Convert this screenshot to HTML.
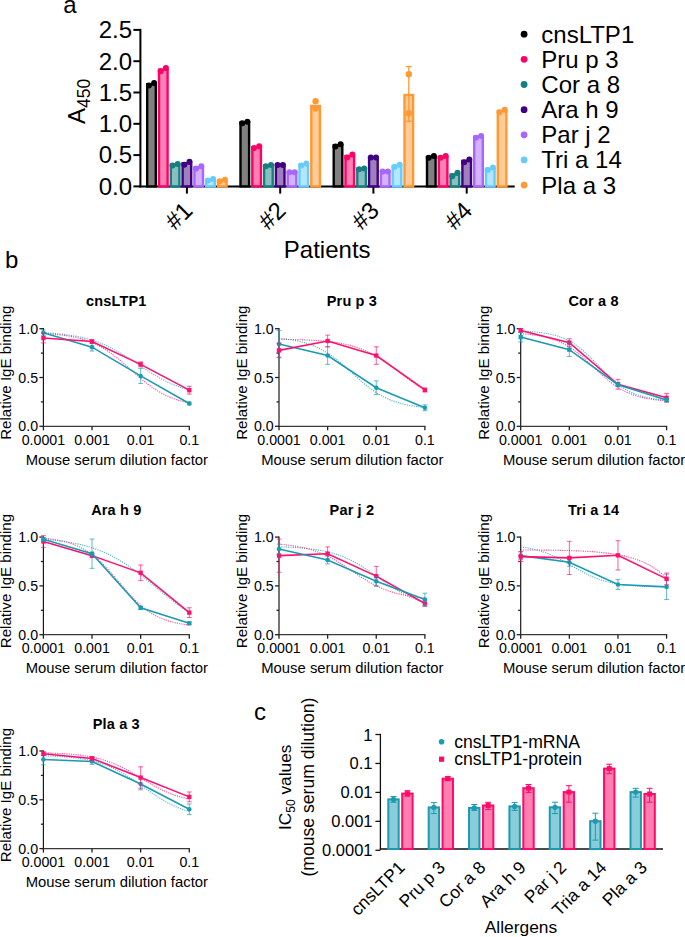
<!DOCTYPE html>
<html><head><meta charset="utf-8"><style>
html,body{margin:0;padding:0;background:#fff;}
svg{display:block;font-family:"Liberation Sans", sans-serif;}
</style></head><body>
<svg width="685" height="937" viewBox="0 0 685 937">
<rect width="685" height="937" fill="#fff"/>
<text x="63.3" y="12.6" font-size="24" text-anchor="start" font-weight="normal" fill="#000">a</text>
<line x1="140.4" y1="28.9" x2="140.4" y2="187.4" stroke="#000" stroke-width="2"/>
<line x1="139.4" y1="186.4" x2="514.7" y2="186.4" stroke="#000" stroke-width="2"/>
<line x1="133.4" y1="29.9" x2="140.4" y2="29.9" stroke="#000" stroke-width="2"/>
<text x="132" y="38.2" font-size="24" text-anchor="end" font-weight="normal" fill="#000">2.5</text>
<line x1="133.4" y1="61.2" x2="140.4" y2="61.2" stroke="#000" stroke-width="2"/>
<text x="132" y="69.5" font-size="24" text-anchor="end" font-weight="normal" fill="#000">2.0</text>
<line x1="133.4" y1="92.5" x2="140.4" y2="92.5" stroke="#000" stroke-width="2"/>
<text x="132" y="100.8" font-size="24" text-anchor="end" font-weight="normal" fill="#000">1.5</text>
<line x1="133.4" y1="123.8" x2="140.4" y2="123.8" stroke="#000" stroke-width="2"/>
<text x="132" y="132.1" font-size="24" text-anchor="end" font-weight="normal" fill="#000">1.0</text>
<line x1="133.4" y1="155.1" x2="140.4" y2="155.1" stroke="#000" stroke-width="2"/>
<text x="132" y="163.4" font-size="24" text-anchor="end" font-weight="normal" fill="#000">0.5</text>
<line x1="133.4" y1="186.4" x2="140.4" y2="186.4" stroke="#000" stroke-width="2"/>
<text x="132" y="194.7" font-size="24" text-anchor="end" font-weight="normal" fill="#000">0.0</text>
<line x1="186.9" y1="186.4" x2="186.9" y2="193.6" stroke="#000" stroke-width="2"/>
<text x="193.9" y="212" font-size="24" text-anchor="end" font-weight="normal" fill="#000" transform="rotate(-45 193.9 212)">#1</text>
<line x1="280.2" y1="186.4" x2="280.2" y2="193.6" stroke="#000" stroke-width="2"/>
<text x="287.2" y="212" font-size="24" text-anchor="end" font-weight="normal" fill="#000" transform="rotate(-45 287.2 212)">#2</text>
<line x1="373.4" y1="186.4" x2="373.4" y2="193.6" stroke="#000" stroke-width="2"/>
<text x="380.4" y="212" font-size="24" text-anchor="end" font-weight="normal" fill="#000" transform="rotate(-45 380.4 212)">#3</text>
<line x1="466.7" y1="186.4" x2="466.7" y2="193.6" stroke="#000" stroke-width="2"/>
<text x="473.7" y="212" font-size="24" text-anchor="end" font-weight="normal" fill="#000" transform="rotate(-45 473.7 212)">#4</text>
<text x="327.2" y="257.9" font-size="24" text-anchor="middle" font-weight="normal" fill="#000">Patients</text>
<text transform="translate(85 124) rotate(-90)" font-size="24" fill="#000">A<tspan font-size="17.5" dy="5">450</tspan></text>
<rect x="147.2" y="84.25" width="8.6" height="102.15" fill="#808080" stroke="#000000" stroke-width="2.4"/>
<circle cx="148.9" cy="85.5" r="3" fill="#000000"/>
<circle cx="154.1" cy="83" r="3" fill="#000000"/>
<rect x="159" y="69.65" width="8.6" height="116.75" fill="#FF80B3" stroke="#FF0066" stroke-width="2.4"/>
<circle cx="160.7" cy="71.3" r="3" fill="#FF0066"/>
<circle cx="165.9" cy="68" r="3" fill="#FF0066"/>
<rect x="170.8" y="164.75" width="8.6" height="21.65" fill="#8ABFBF" stroke="#157F7F" stroke-width="2.4"/>
<circle cx="172.5" cy="165.5" r="3" fill="#157F7F"/>
<circle cx="177.7" cy="164" r="3" fill="#157F7F"/>
<rect x="182.6" y="163.3" width="8.6" height="23.1" fill="#9F80BF" stroke="#40007F" stroke-width="2.4"/>
<circle cx="184.3" cy="164.8" r="3" fill="#40007F"/>
<circle cx="189.5" cy="161.8" r="3" fill="#40007F"/>
<rect x="194.4" y="167.35" width="8.6" height="19.05" fill="#D4B2FF" stroke="#A965FF" stroke-width="2.4"/>
<circle cx="196.1" cy="168.5" r="3" fill="#A965FF"/>
<circle cx="201.3" cy="166.2" r="3" fill="#A965FF"/>
<rect x="206.2" y="179.65" width="8.6" height="6.75" fill="#B3E6FF" stroke="#66CCFF" stroke-width="2.4"/>
<circle cx="207.9" cy="180.4" r="3" fill="#66CCFF"/>
<circle cx="213.1" cy="178.9" r="3" fill="#66CCFF"/>
<rect x="218" y="180.45" width="8.6" height="5.95" fill="#FFCC99" stroke="#FF9933" stroke-width="2.4"/>
<circle cx="219.7" cy="181.2" r="3" fill="#FF9933"/>
<circle cx="224.9" cy="179.7" r="3" fill="#FF9933"/>
<rect x="240.5" y="122.5" width="8.6" height="63.9" fill="#808080" stroke="#000000" stroke-width="2.4"/>
<circle cx="242.2" cy="123.2" r="3" fill="#000000"/>
<circle cx="247.4" cy="121.8" r="3" fill="#000000"/>
<rect x="252.3" y="147.2" width="8.6" height="39.2" fill="#FF80B3" stroke="#FF0066" stroke-width="2.4"/>
<circle cx="254" cy="148.1" r="3" fill="#FF0066"/>
<circle cx="259.2" cy="146.3" r="3" fill="#FF0066"/>
<rect x="264.1" y="165.6" width="8.6" height="20.8" fill="#8ABFBF" stroke="#157F7F" stroke-width="2.4"/>
<circle cx="265.8" cy="166.3" r="3" fill="#157F7F"/>
<circle cx="271" cy="164.9" r="3" fill="#157F7F"/>
<rect x="275.9" y="164.9" width="8.6" height="21.5" fill="#9F80BF" stroke="#40007F" stroke-width="2.4"/>
<circle cx="277.6" cy="164.9" r="3" fill="#40007F"/>
<circle cx="282.8" cy="164.9" r="3" fill="#40007F"/>
<rect x="287.7" y="172.2" width="8.6" height="14.2" fill="#D4B2FF" stroke="#A965FF" stroke-width="2.4"/>
<circle cx="289.4" cy="172.2" r="3" fill="#A965FF"/>
<circle cx="294.6" cy="172.2" r="3" fill="#A965FF"/>
<rect x="299.5" y="164.5" width="8.6" height="21.9" fill="#B3E6FF" stroke="#66CCFF" stroke-width="2.4"/>
<circle cx="301.2" cy="165.6" r="3" fill="#66CCFF"/>
<circle cx="306.4" cy="163.4" r="3" fill="#66CCFF"/>
<rect x="333.7" y="145.4" width="8.6" height="41" fill="#808080" stroke="#000000" stroke-width="2.4"/>
<circle cx="335.4" cy="146.5" r="3" fill="#000000"/>
<circle cx="340.6" cy="144.3" r="3" fill="#000000"/>
<rect x="345.5" y="156.05" width="8.6" height="30.35" fill="#FF80B3" stroke="#FF0066" stroke-width="2.4"/>
<circle cx="347.2" cy="157.5" r="3" fill="#FF0066"/>
<circle cx="352.4" cy="154.6" r="3" fill="#FF0066"/>
<rect x="357.3" y="168.8" width="8.6" height="17.6" fill="#8ABFBF" stroke="#157F7F" stroke-width="2.4"/>
<circle cx="359" cy="169.2" r="3" fill="#157F7F"/>
<circle cx="364.2" cy="168.4" r="3" fill="#157F7F"/>
<rect x="369.1" y="157.5" width="8.6" height="28.9" fill="#9F80BF" stroke="#40007F" stroke-width="2.4"/>
<circle cx="370.8" cy="157.5" r="3" fill="#40007F"/>
<circle cx="376" cy="157.5" r="3" fill="#40007F"/>
<rect x="380.9" y="171.4" width="8.6" height="15" fill="#D4B2FF" stroke="#A965FF" stroke-width="2.4"/>
<circle cx="382.6" cy="171.4" r="3" fill="#A965FF"/>
<circle cx="387.8" cy="171.4" r="3" fill="#A965FF"/>
<rect x="392.7" y="165.9" width="8.6" height="20.5" fill="#B3E6FF" stroke="#66CCFF" stroke-width="2.4"/>
<circle cx="394.4" cy="167" r="3" fill="#66CCFF"/>
<circle cx="399.6" cy="164.8" r="3" fill="#66CCFF"/>
<rect x="427" y="156.95" width="8.6" height="29.45" fill="#808080" stroke="#000000" stroke-width="2.4"/>
<circle cx="428.7" cy="157.8" r="3" fill="#000000"/>
<circle cx="433.9" cy="156.1" r="3" fill="#000000"/>
<rect x="438.8" y="156.95" width="8.6" height="29.45" fill="#FF80B3" stroke="#FF0066" stroke-width="2.4"/>
<circle cx="440.5" cy="157.8" r="3" fill="#FF0066"/>
<circle cx="445.7" cy="156.1" r="3" fill="#FF0066"/>
<rect x="450.6" y="174.45" width="8.6" height="11.95" fill="#8ABFBF" stroke="#157F7F" stroke-width="2.4"/>
<circle cx="452.3" cy="176.2" r="3" fill="#157F7F"/>
<circle cx="457.5" cy="172.7" r="3" fill="#157F7F"/>
<rect x="462.4" y="160.9" width="8.6" height="25.5" fill="#9F80BF" stroke="#40007F" stroke-width="2.4"/>
<circle cx="464.1" cy="162.2" r="3" fill="#40007F"/>
<circle cx="469.3" cy="159.6" r="3" fill="#40007F"/>
<rect x="474.2" y="136.8" width="8.6" height="49.6" fill="#D4B2FF" stroke="#A965FF" stroke-width="2.4"/>
<circle cx="475.9" cy="137.7" r="3" fill="#A965FF"/>
<circle cx="481.1" cy="135.9" r="3" fill="#A965FF"/>
<rect x="486" y="168.8" width="8.6" height="17.6" fill="#B3E6FF" stroke="#66CCFF" stroke-width="2.4"/>
<circle cx="487.7" cy="170.1" r="3" fill="#66CCFF"/>
<circle cx="492.9" cy="167.5" r="3" fill="#66CCFF"/>
<rect x="497.8" y="111" width="8.6" height="75.4" fill="#FFCC99" stroke="#FF9933" stroke-width="2.4"/>
<circle cx="499.5" cy="112.3" r="3" fill="#FF9933"/>
<circle cx="504.7" cy="109.7" r="3" fill="#FF9933"/>
<rect x="311.3" y="106" width="8.6" height="80.4" fill="#FFCC99" stroke="#FF9933" stroke-width="2.4"/>
<circle cx="315.6" cy="101.3" r="3.2" fill="#FF9933"/>
<circle cx="315.6" cy="108.5" r="3.2" fill="#FF9933"/>
<rect x="404.5" y="95" width="8.6" height="91.4" fill="#FFCC99" stroke="#FF9933" stroke-width="2.4"/>
<line x1="408.8" y1="66.6" x2="408.8" y2="121.3" stroke="#FF9933" stroke-width="1.3"/>
<line x1="405.8" y1="66.6" x2="411.8" y2="66.6" stroke="#FF9933" stroke-width="1.3"/>
<line x1="405.8" y1="121.3" x2="411.8" y2="121.3" stroke="#FF9933" stroke-width="1.3"/>
<circle cx="408.8" cy="74.3" r="3.2" fill="#FF9933"/>
<circle cx="408.8" cy="113.3" r="3.2" fill="#FF9933"/>
<circle cx="524.1" cy="34.2" r="3.4" fill="#000000"/>
<text x="541.3" y="42.6" font-size="24" text-anchor="start" font-weight="normal" fill="#000">cnsLTP1</text>
<circle cx="524.1" cy="59.35" r="3.4" fill="#FF0066"/>
<text x="541.3" y="67.75" font-size="24" text-anchor="start" font-weight="normal" fill="#000">Pru p 3</text>
<circle cx="524.1" cy="84.5" r="3.4" fill="#157F7F"/>
<text x="541.3" y="92.9" font-size="24" text-anchor="start" font-weight="normal" fill="#000">Cor a 8</text>
<circle cx="524.1" cy="109.65" r="3.4" fill="#40007F"/>
<text x="541.3" y="118.05" font-size="24" text-anchor="start" font-weight="normal" fill="#000">Ara h 9</text>
<circle cx="524.1" cy="134.8" r="3.4" fill="#A965FF"/>
<text x="541.3" y="143.2" font-size="24" text-anchor="start" font-weight="normal" fill="#000">Par j 2</text>
<circle cx="524.1" cy="159.95" r="3.4" fill="#66CCFF"/>
<text x="541.3" y="168.35" font-size="24" text-anchor="start" font-weight="normal" fill="#000">Tri a 14</text>
<circle cx="524.1" cy="185.1" r="3.4" fill="#FF9933"/>
<text x="541.3" y="193.5" font-size="24" text-anchor="start" font-weight="normal" fill="#000">Pla a 3</text>
<text x="5" y="267.8" font-size="24" text-anchor="start" font-weight="normal" fill="#000">b</text>
<text x="116.3" y="306.2" font-size="14.5" text-anchor="middle" font-weight="bold" fill="#000" letter-spacing="0.15">cnsLTP1</text>
<line x1="43.4" y1="328.1" x2="43.4" y2="426.9" stroke="#111" stroke-width="1.15"/>
<line x1="42.8" y1="426.3" x2="189.89" y2="426.3" stroke="#3a3a3a" stroke-width="1.3"/>
<line x1="39.4" y1="426.3" x2="43.4" y2="426.3" stroke="#222" stroke-width="1.3"/>
<text x="38.1" y="431.3" font-size="14.2" text-anchor="end" font-weight="normal" fill="#000">0.0</text>
<line x1="40.9" y1="401.9" x2="43.4" y2="401.9" stroke="#222" stroke-width="1.3"/>
<line x1="39.4" y1="377.5" x2="43.4" y2="377.5" stroke="#222" stroke-width="1.3"/>
<text x="38.1" y="382.5" font-size="14.2" text-anchor="end" font-weight="normal" fill="#000">0.5</text>
<line x1="40.9" y1="353.1" x2="43.4" y2="353.1" stroke="#222" stroke-width="1.3"/>
<line x1="39.4" y1="328.7" x2="43.4" y2="328.7" stroke="#222" stroke-width="1.3"/>
<text x="38.1" y="333.7" font-size="14.2" text-anchor="end" font-weight="normal" fill="#000">1.0</text>
<line x1="43.4" y1="426.3" x2="43.4" y2="430.3" stroke="#222" stroke-width="1.3"/>
<text x="43.4" y="444.7" font-size="14.2" text-anchor="middle" font-weight="normal" fill="#000">0.0001</text>
<line x1="92.03" y1="426.3" x2="92.03" y2="430.3" stroke="#222" stroke-width="1.3"/>
<text x="92.03" y="444.7" font-size="14.2" text-anchor="middle" font-weight="normal" fill="#000">0.001</text>
<line x1="140.66" y1="426.3" x2="140.66" y2="430.3" stroke="#222" stroke-width="1.3"/>
<text x="140.66" y="444.7" font-size="14.2" text-anchor="middle" font-weight="normal" fill="#000">0.01</text>
<line x1="189.29" y1="426.3" x2="189.29" y2="430.3" stroke="#222" stroke-width="1.3"/>
<text x="189.29" y="444.7" font-size="14.2" text-anchor="middle" font-weight="normal" fill="#000">0.1</text>
<text x="116.8" y="464.6" font-size="14.85" text-anchor="middle" font-weight="normal" fill="#000">Mouse serum dilution factor</text>
<text transform="translate(11.2 372.7) rotate(-90)" font-size="15.1" text-anchor="middle" fill="#000">Relative IgE binding</text>
<polyline points="43.4,333.46 45.83,333.6 48.26,333.75 50.69,333.93 53.13,334.13 55.56,334.34 57.99,334.59 60.42,334.86 62.85,335.16 65.28,335.5 67.72,335.87 70.15,336.28 72.58,336.74 75.01,337.25 77.44,337.81 79.87,338.43 82.3,339.11 84.74,339.86 87.17,340.68 89.6,341.58 92.03,342.56 94.46,343.63 96.89,344.78 99.32,346.02 101.76,347.36 104.19,348.8 106.62,350.33 109.05,351.96 111.48,353.67 113.91,355.48 116.34,357.36 118.78,359.32 121.21,361.34 123.64,363.42 126.07,365.54 128.5,367.68 130.93,369.84 133.37,372 135.8,374.15 138.23,376.26 140.66,378.34 143.09,380.36 145.52,382.32 147.95,384.21 150.39,386.01 152.82,387.73 155.25,389.35 157.68,390.88 160.11,392.32 162.54,393.66 164.97,394.9 167.41,396.06 169.84,397.12 172.27,398.1 174.7,399 177.13,399.82 179.56,400.57 182,401.25 184.43,401.87 186.86,402.43 189.29,402.94" fill="none" stroke="#FF0F6E" stroke-width="1.1" stroke-dasharray="1.1 1.2" opacity="0.8"/>
<polyline points="43.4,332.68 45.83,332.83 48.26,332.98 50.69,333.16 53.13,333.35 55.56,333.55 57.99,333.78 60.42,334.03 62.85,334.3 65.28,334.6 67.72,334.92 70.15,335.28 72.58,335.66 75.01,336.08 77.44,336.54 79.87,337.04 82.3,337.58 84.74,338.16 87.17,338.79 89.6,339.47 92.03,340.2 94.46,340.98 96.89,341.82 99.32,342.72 101.76,343.68 104.19,344.7 106.62,345.78 109.05,346.92 111.48,348.12 113.91,349.38 116.34,350.69 118.78,352.07 121.21,353.49 123.64,354.96 126.07,356.47 128.5,358.02 130.93,359.59 133.37,361.19 135.8,362.8 138.23,364.43 140.66,366.05 143.09,367.66 145.52,369.26 147.95,370.84 150.39,372.38 152.82,373.89 155.25,375.36 157.68,376.79 160.11,378.16 162.54,379.47 164.97,380.73 167.41,381.94 169.84,383.08 172.27,384.16 174.7,385.17 177.13,386.13 179.56,387.03 182,387.87 184.43,388.66 186.86,389.39 189.29,390.07" fill="none" stroke="#1A9BB4" stroke-width="1.1" stroke-dasharray="1.1 1.2" opacity="0.8"/>
<polyline points="43.4,332.8 92.03,347.15 140.66,375.94 189.29,403.46" fill="none" stroke="#1A9BB4" stroke-width="1.55"/>
<line x1="43.4" y1="329.87" x2="43.4" y2="335.73" stroke="#1A9BB4" stroke-width="0.9" opacity="0.75"/>
<line x1="41" y1="329.87" x2="45.8" y2="329.87" stroke="#1A9BB4" stroke-width="0.9" opacity="0.75"/>
<line x1="41" y1="335.73" x2="45.8" y2="335.73" stroke="#1A9BB4" stroke-width="0.9" opacity="0.75"/>
<circle cx="43.4" cy="332.8" r="2.3" fill="#1A9BB4"/>
<line x1="92.03" y1="343.24" x2="92.03" y2="351.05" stroke="#1A9BB4" stroke-width="0.9" opacity="0.75"/>
<line x1="89.63" y1="343.24" x2="94.43" y2="343.24" stroke="#1A9BB4" stroke-width="0.9" opacity="0.75"/>
<line x1="89.63" y1="351.05" x2="94.43" y2="351.05" stroke="#1A9BB4" stroke-width="0.9" opacity="0.75"/>
<circle cx="92.03" cy="347.15" r="2.3" fill="#1A9BB4"/>
<line x1="140.66" y1="368.33" x2="140.66" y2="383.55" stroke="#1A9BB4" stroke-width="0.9" opacity="0.75"/>
<line x1="138.26" y1="368.33" x2="143.06" y2="368.33" stroke="#1A9BB4" stroke-width="0.9" opacity="0.75"/>
<line x1="138.26" y1="383.55" x2="143.06" y2="383.55" stroke="#1A9BB4" stroke-width="0.9" opacity="0.75"/>
<circle cx="140.66" cy="375.94" r="2.3" fill="#1A9BB4"/>
<line x1="189.29" y1="402" x2="189.29" y2="404.93" stroke="#1A9BB4" stroke-width="0.9" opacity="0.75"/>
<line x1="186.89" y1="402" x2="191.69" y2="402" stroke="#1A9BB4" stroke-width="0.9" opacity="0.75"/>
<line x1="186.89" y1="404.93" x2="191.69" y2="404.93" stroke="#1A9BB4" stroke-width="0.9" opacity="0.75"/>
<circle cx="189.29" cy="403.46" r="2.3" fill="#1A9BB4"/>
<polyline points="43.4,338.07 92.03,341.58 140.66,364.32 189.29,390.19" fill="none" stroke="#FF0F6E" stroke-width="1.55"/>
<line x1="43.4" y1="333.19" x2="43.4" y2="342.95" stroke="#FF0F6E" stroke-width="0.9" opacity="0.75"/>
<line x1="41" y1="333.19" x2="45.8" y2="333.19" stroke="#FF0F6E" stroke-width="0.9" opacity="0.75"/>
<line x1="41" y1="342.95" x2="45.8" y2="342.95" stroke="#FF0F6E" stroke-width="0.9" opacity="0.75"/>
<rect x="41.25" y="335.92" width="4.3" height="4.3" fill="#FF0F6E"/>
<line x1="92.03" y1="339.63" x2="92.03" y2="343.54" stroke="#FF0F6E" stroke-width="0.9" opacity="0.75"/>
<line x1="89.63" y1="339.63" x2="94.43" y2="339.63" stroke="#FF0F6E" stroke-width="0.9" opacity="0.75"/>
<line x1="89.63" y1="343.54" x2="94.43" y2="343.54" stroke="#FF0F6E" stroke-width="0.9" opacity="0.75"/>
<rect x="89.88" y="339.43" width="4.3" height="4.3" fill="#FF0F6E"/>
<line x1="140.66" y1="361.88" x2="140.66" y2="366.76" stroke="#FF0F6E" stroke-width="0.9" opacity="0.75"/>
<line x1="138.26" y1="361.88" x2="143.06" y2="361.88" stroke="#FF0F6E" stroke-width="0.9" opacity="0.75"/>
<line x1="138.26" y1="366.76" x2="143.06" y2="366.76" stroke="#FF0F6E" stroke-width="0.9" opacity="0.75"/>
<rect x="138.51" y="362.17" width="4.3" height="4.3" fill="#FF0F6E"/>
<line x1="189.29" y1="386.28" x2="189.29" y2="394.09" stroke="#FF0F6E" stroke-width="0.9" opacity="0.75"/>
<line x1="186.89" y1="386.28" x2="191.69" y2="386.28" stroke="#FF0F6E" stroke-width="0.9" opacity="0.75"/>
<line x1="186.89" y1="394.09" x2="191.69" y2="394.09" stroke="#FF0F6E" stroke-width="0.9" opacity="0.75"/>
<rect x="187.14" y="388.04" width="4.3" height="4.3" fill="#FF0F6E"/>
<text x="351.9" y="306.2" font-size="14.5" text-anchor="middle" font-weight="bold" fill="#000" letter-spacing="0.15">Pru p 3</text>
<line x1="279" y1="328.1" x2="279" y2="426.9" stroke="#111" stroke-width="1.15"/>
<line x1="278.4" y1="426.3" x2="425.49" y2="426.3" stroke="#3a3a3a" stroke-width="1.3"/>
<line x1="275" y1="426.3" x2="279" y2="426.3" stroke="#222" stroke-width="1.3"/>
<text x="273.7" y="431.3" font-size="14.2" text-anchor="end" font-weight="normal" fill="#000">0.0</text>
<line x1="276.5" y1="401.9" x2="279" y2="401.9" stroke="#222" stroke-width="1.3"/>
<line x1="275" y1="377.5" x2="279" y2="377.5" stroke="#222" stroke-width="1.3"/>
<text x="273.7" y="382.5" font-size="14.2" text-anchor="end" font-weight="normal" fill="#000">0.5</text>
<line x1="276.5" y1="353.1" x2="279" y2="353.1" stroke="#222" stroke-width="1.3"/>
<line x1="275" y1="328.7" x2="279" y2="328.7" stroke="#222" stroke-width="1.3"/>
<text x="273.7" y="333.7" font-size="14.2" text-anchor="end" font-weight="normal" fill="#000">1.0</text>
<line x1="279" y1="426.3" x2="279" y2="430.3" stroke="#222" stroke-width="1.3"/>
<text x="279" y="444.7" font-size="14.2" text-anchor="middle" font-weight="normal" fill="#000">0.0001</text>
<line x1="327.63" y1="426.3" x2="327.63" y2="430.3" stroke="#222" stroke-width="1.3"/>
<text x="327.63" y="444.7" font-size="14.2" text-anchor="middle" font-weight="normal" fill="#000">0.001</text>
<line x1="376.26" y1="426.3" x2="376.26" y2="430.3" stroke="#222" stroke-width="1.3"/>
<text x="376.26" y="444.7" font-size="14.2" text-anchor="middle" font-weight="normal" fill="#000">0.01</text>
<line x1="424.89" y1="426.3" x2="424.89" y2="430.3" stroke="#222" stroke-width="1.3"/>
<text x="424.89" y="444.7" font-size="14.2" text-anchor="middle" font-weight="normal" fill="#000">0.1</text>
<text x="352.4" y="464.6" font-size="14.85" text-anchor="middle" font-weight="normal" fill="#000">Mouse serum dilution factor</text>
<text transform="translate(246.8 372.7) rotate(-90)" font-size="15.1" text-anchor="middle" fill="#000">Relative IgE binding</text>
<polyline points="279,339.29 281.43,339.32 283.86,339.36 286.29,339.4 288.73,339.44 291.16,339.49 293.59,339.55 296.02,339.61 298.45,339.68 300.88,339.76 303.31,339.85 305.75,339.94 308.18,340.05 310.61,340.17 313.04,340.3 315.47,340.45 317.9,340.62 320.34,340.8 322.77,341 325.2,341.22 327.63,341.47 330.06,341.75 332.49,342.05 334.92,342.39 337.36,342.75 339.79,343.16 342.22,343.61 344.65,344.1 347.08,344.65 349.51,345.24 351.94,345.89 354.38,346.6 356.81,347.37 359.24,348.2 361.67,349.11 364.1,350.09 366.53,351.14 368.97,352.27 371.4,353.48 373.83,354.77 376.26,356.13 378.69,357.57 381.12,359.09 383.55,360.67 385.99,362.32 388.42,364.03 390.85,365.79 393.28,367.59 395.71,369.42 398.14,371.28 400.57,373.14 403.01,375.01 405.44,376.86 407.87,378.69 410.3,380.49 412.73,382.25 415.16,383.96 417.6,385.61 420.03,387.19 422.46,388.71 424.89,390.15" fill="none" stroke="#FF0F6E" stroke-width="1.1" stroke-dasharray="1.1 1.2" opacity="0.8"/>
<polyline points="279,338.31 281.43,338.55 283.86,338.81 286.29,339.11 288.73,339.44 291.16,339.81 293.59,340.22 296.02,340.68 298.45,341.19 300.88,341.76 303.31,342.39 305.75,343.08 308.18,343.85 310.61,344.7 313.04,345.63 315.47,346.64 317.9,347.75 320.34,348.96 322.77,350.26 325.2,351.67 327.63,353.18 330.06,354.79 332.49,356.5 334.92,358.3 337.36,360.2 339.79,362.17 342.22,364.22 344.65,366.33 347.08,368.48 349.51,370.66 351.94,372.86 354.38,375.06 356.81,377.25 359.24,379.4 361.67,381.51 364.1,383.55 366.53,385.53 368.97,387.42 371.4,389.23 373.83,390.94 376.26,392.55 378.69,394.06 381.12,395.47 383.55,396.77 385.99,397.98 388.42,399.08 390.85,400.1 393.28,401.03 395.71,401.88 398.14,402.65 400.57,403.34 403.01,403.97 405.44,404.54 407.87,405.05 410.3,405.51 412.73,405.92 415.16,406.29 417.6,406.62 420.03,406.92 422.46,407.18 424.89,407.42" fill="none" stroke="#1A9BB4" stroke-width="1.1" stroke-dasharray="1.1 1.2" opacity="0.8"/>
<polyline points="279,344.12 327.63,355.54 376.26,387.75 424.89,407.76" fill="none" stroke="#1A9BB4" stroke-width="1.55"/>
<line x1="279" y1="330.46" x2="279" y2="357.78" stroke="#1A9BB4" stroke-width="0.9" opacity="0.75"/>
<line x1="276.6" y1="330.46" x2="281.4" y2="330.46" stroke="#1A9BB4" stroke-width="0.9" opacity="0.75"/>
<line x1="276.6" y1="357.78" x2="281.4" y2="357.78" stroke="#1A9BB4" stroke-width="0.9" opacity="0.75"/>
<circle cx="279" cy="344.12" r="2.3" fill="#1A9BB4"/>
<line x1="327.63" y1="346.76" x2="327.63" y2="364.32" stroke="#1A9BB4" stroke-width="0.9" opacity="0.75"/>
<line x1="325.23" y1="346.76" x2="330.03" y2="346.76" stroke="#1A9BB4" stroke-width="0.9" opacity="0.75"/>
<line x1="325.23" y1="364.32" x2="330.03" y2="364.32" stroke="#1A9BB4" stroke-width="0.9" opacity="0.75"/>
<circle cx="327.63" cy="355.54" r="2.3" fill="#1A9BB4"/>
<line x1="376.26" y1="380.92" x2="376.26" y2="394.58" stroke="#1A9BB4" stroke-width="0.9" opacity="0.75"/>
<line x1="373.86" y1="380.92" x2="378.66" y2="380.92" stroke="#1A9BB4" stroke-width="0.9" opacity="0.75"/>
<line x1="373.86" y1="394.58" x2="378.66" y2="394.58" stroke="#1A9BB4" stroke-width="0.9" opacity="0.75"/>
<circle cx="376.26" cy="387.75" r="2.3" fill="#1A9BB4"/>
<line x1="424.89" y1="404.83" x2="424.89" y2="410.68" stroke="#1A9BB4" stroke-width="0.9" opacity="0.75"/>
<line x1="422.49" y1="404.83" x2="427.29" y2="404.83" stroke="#1A9BB4" stroke-width="0.9" opacity="0.75"/>
<line x1="422.49" y1="410.68" x2="427.29" y2="410.68" stroke="#1A9BB4" stroke-width="0.9" opacity="0.75"/>
<circle cx="424.89" cy="407.76" r="2.3" fill="#1A9BB4"/>
<polyline points="279,350.37 327.63,341 376.26,355.54 424.89,389.99" fill="none" stroke="#FF0F6E" stroke-width="1.55"/>
<line x1="279" y1="343.54" x2="279" y2="357.2" stroke="#FF0F6E" stroke-width="0.9" opacity="0.75"/>
<line x1="276.6" y1="343.54" x2="281.4" y2="343.54" stroke="#FF0F6E" stroke-width="0.9" opacity="0.75"/>
<line x1="276.6" y1="357.2" x2="281.4" y2="357.2" stroke="#FF0F6E" stroke-width="0.9" opacity="0.75"/>
<rect x="276.85" y="348.22" width="4.3" height="4.3" fill="#FF0F6E"/>
<line x1="327.63" y1="335.14" x2="327.63" y2="346.85" stroke="#FF0F6E" stroke-width="0.9" opacity="0.75"/>
<line x1="325.23" y1="335.14" x2="330.03" y2="335.14" stroke="#FF0F6E" stroke-width="0.9" opacity="0.75"/>
<line x1="325.23" y1="346.85" x2="330.03" y2="346.85" stroke="#FF0F6E" stroke-width="0.9" opacity="0.75"/>
<rect x="325.48" y="338.85" width="4.3" height="4.3" fill="#FF0F6E"/>
<line x1="376.26" y1="346.76" x2="376.26" y2="364.32" stroke="#FF0F6E" stroke-width="0.9" opacity="0.75"/>
<line x1="373.86" y1="346.76" x2="378.66" y2="346.76" stroke="#FF0F6E" stroke-width="0.9" opacity="0.75"/>
<line x1="373.86" y1="364.32" x2="378.66" y2="364.32" stroke="#FF0F6E" stroke-width="0.9" opacity="0.75"/>
<rect x="374.11" y="353.39" width="4.3" height="4.3" fill="#FF0F6E"/>
<line x1="424.89" y1="388.04" x2="424.89" y2="391.94" stroke="#FF0F6E" stroke-width="0.9" opacity="0.75"/>
<line x1="422.49" y1="388.04" x2="427.29" y2="388.04" stroke="#FF0F6E" stroke-width="0.9" opacity="0.75"/>
<line x1="422.49" y1="391.94" x2="427.29" y2="391.94" stroke="#FF0F6E" stroke-width="0.9" opacity="0.75"/>
<rect x="422.74" y="387.84" width="4.3" height="4.3" fill="#FF0F6E"/>
<text x="593.6" y="306.2" font-size="14.5" text-anchor="middle" font-weight="bold" fill="#000" letter-spacing="0.15">Cor a 8</text>
<line x1="520.7" y1="328.1" x2="520.7" y2="426.9" stroke="#111" stroke-width="1.15"/>
<line x1="520.1" y1="426.3" x2="667.19" y2="426.3" stroke="#3a3a3a" stroke-width="1.3"/>
<line x1="516.7" y1="426.3" x2="520.7" y2="426.3" stroke="#222" stroke-width="1.3"/>
<text x="515.4" y="431.3" font-size="14.2" text-anchor="end" font-weight="normal" fill="#000">0.0</text>
<line x1="518.2" y1="401.9" x2="520.7" y2="401.9" stroke="#222" stroke-width="1.3"/>
<line x1="516.7" y1="377.5" x2="520.7" y2="377.5" stroke="#222" stroke-width="1.3"/>
<text x="515.4" y="382.5" font-size="14.2" text-anchor="end" font-weight="normal" fill="#000">0.5</text>
<line x1="518.2" y1="353.1" x2="520.7" y2="353.1" stroke="#222" stroke-width="1.3"/>
<line x1="516.7" y1="328.7" x2="520.7" y2="328.7" stroke="#222" stroke-width="1.3"/>
<text x="515.4" y="333.7" font-size="14.2" text-anchor="end" font-weight="normal" fill="#000">1.0</text>
<line x1="520.7" y1="426.3" x2="520.7" y2="430.3" stroke="#222" stroke-width="1.3"/>
<text x="520.7" y="444.7" font-size="14.2" text-anchor="middle" font-weight="normal" fill="#000">0.0001</text>
<line x1="569.33" y1="426.3" x2="569.33" y2="430.3" stroke="#222" stroke-width="1.3"/>
<text x="569.33" y="444.7" font-size="14.2" text-anchor="middle" font-weight="normal" fill="#000">0.001</text>
<line x1="617.96" y1="426.3" x2="617.96" y2="430.3" stroke="#222" stroke-width="1.3"/>
<text x="617.96" y="444.7" font-size="14.2" text-anchor="middle" font-weight="normal" fill="#000">0.01</text>
<line x1="666.59" y1="426.3" x2="666.59" y2="430.3" stroke="#222" stroke-width="1.3"/>
<text x="666.59" y="444.7" font-size="14.2" text-anchor="middle" font-weight="normal" fill="#000">0.1</text>
<text x="594.1" y="464.6" font-size="14.85" text-anchor="middle" font-weight="normal" fill="#000">Mouse serum dilution factor</text>
<text transform="translate(488.5 372.7) rotate(-90)" font-size="15.1" text-anchor="middle" fill="#000">Relative IgE binding</text>
<polyline points="520.7,333.7 523.13,333.87 525.56,334.08 527.99,334.31 530.43,334.57 532.86,334.86 535.29,335.2 537.72,335.57 540.15,336 542.58,336.48 545.02,337.01 547.45,337.62 549.88,338.29 552.31,339.05 554.74,339.89 557.17,340.82 559.6,341.85 562.04,342.98 564.47,344.22 566.9,345.58 569.33,347.05 571.76,348.64 574.19,350.35 576.62,352.17 579.06,354.1 581.49,356.12 583.92,358.23 586.35,360.42 588.78,362.67 591.21,364.95 593.65,367.25 596.08,369.56 598.51,371.84 600.94,374.08 603.37,376.27 605.8,378.38 608.23,380.41 610.67,382.33 613.1,384.15 615.53,385.86 617.96,387.45 620.39,388.92 622.82,390.28 625.25,391.52 627.69,392.66 630.12,393.69 632.55,394.62 634.98,395.46 637.41,396.21 639.84,396.89 642.28,397.49 644.71,398.03 647.14,398.51 649.57,398.93 652,399.31 654.43,399.64 656.86,399.94 659.3,400.2 661.73,400.43 664.16,400.63 666.59,400.81" fill="none" stroke="#FF0F6E" stroke-width="1.1" stroke-dasharray="1.1 1.2" opacity="0.8"/>
<polyline points="520.7,330.99 523.13,331.1 525.56,331.22 527.99,331.37 530.43,331.53 532.86,331.72 535.29,331.93 537.72,332.18 540.15,332.47 542.58,332.79 545.02,333.16 547.45,333.59 549.88,334.07 552.31,334.62 554.74,335.24 557.17,335.95 559.6,336.75 562.04,337.64 564.47,338.65 566.9,339.77 569.33,341.01 571.76,342.39 574.19,343.9 576.62,345.56 579.06,347.35 581.49,349.29 583.92,351.36 586.35,353.55 588.78,355.85 591.21,358.25 593.65,360.72 596.08,363.25 598.51,365.8 600.94,368.35 603.37,370.87 605.8,373.35 608.23,375.75 610.67,378.05 613.1,380.24 615.53,382.31 617.96,384.25 620.39,386.04 622.82,387.7 625.25,389.21 627.69,390.59 630.12,391.83 632.55,392.95 634.98,393.96 637.41,394.85 639.84,395.65 642.28,396.36 644.71,396.98 647.14,397.53 649.57,398.01 652,398.44 654.43,398.81 656.86,399.13 659.3,399.42 661.73,399.66 664.16,399.88 666.59,400.07" fill="none" stroke="#1A9BB4" stroke-width="1.1" stroke-dasharray="1.1 1.2" opacity="0.8"/>
<polyline points="520.7,330.46 569.33,342.66 617.96,384.23 666.59,397.8" fill="none" stroke="#FF0F6E" stroke-width="1.55"/>
<line x1="520.7" y1="328.5" x2="520.7" y2="332.41" stroke="#FF0F6E" stroke-width="0.9" opacity="0.75"/>
<line x1="518.3" y1="328.5" x2="523.1" y2="328.5" stroke="#FF0F6E" stroke-width="0.9" opacity="0.75"/>
<line x1="518.3" y1="332.41" x2="523.1" y2="332.41" stroke="#FF0F6E" stroke-width="0.9" opacity="0.75"/>
<rect x="518.55" y="328.31" width="4.3" height="4.3" fill="#FF0F6E"/>
<line x1="569.33" y1="338.75" x2="569.33" y2="346.56" stroke="#FF0F6E" stroke-width="0.9" opacity="0.75"/>
<line x1="566.93" y1="338.75" x2="571.73" y2="338.75" stroke="#FF0F6E" stroke-width="0.9" opacity="0.75"/>
<line x1="566.93" y1="346.56" x2="571.73" y2="346.56" stroke="#FF0F6E" stroke-width="0.9" opacity="0.75"/>
<rect x="567.18" y="340.51" width="4.3" height="4.3" fill="#FF0F6E"/>
<line x1="617.96" y1="379.35" x2="617.96" y2="389.11" stroke="#FF0F6E" stroke-width="0.9" opacity="0.75"/>
<line x1="615.56" y1="379.35" x2="620.36" y2="379.35" stroke="#FF0F6E" stroke-width="0.9" opacity="0.75"/>
<line x1="615.56" y1="389.11" x2="620.36" y2="389.11" stroke="#FF0F6E" stroke-width="0.9" opacity="0.75"/>
<rect x="615.81" y="382.08" width="4.3" height="4.3" fill="#FF0F6E"/>
<line x1="666.59" y1="393.41" x2="666.59" y2="402.19" stroke="#FF0F6E" stroke-width="0.9" opacity="0.75"/>
<line x1="664.19" y1="393.41" x2="668.99" y2="393.41" stroke="#FF0F6E" stroke-width="0.9" opacity="0.75"/>
<line x1="664.19" y1="402.19" x2="668.99" y2="402.19" stroke="#FF0F6E" stroke-width="0.9" opacity="0.75"/>
<rect x="664.44" y="395.65" width="4.3" height="4.3" fill="#FF0F6E"/>
<polyline points="520.7,337.09 569.33,349.68 617.96,384.72 666.59,399.95" fill="none" stroke="#1A9BB4" stroke-width="1.55"/>
<line x1="520.7" y1="332.21" x2="520.7" y2="341.97" stroke="#1A9BB4" stroke-width="0.9" opacity="0.75"/>
<line x1="518.3" y1="332.21" x2="523.1" y2="332.21" stroke="#1A9BB4" stroke-width="0.9" opacity="0.75"/>
<line x1="518.3" y1="341.97" x2="523.1" y2="341.97" stroke="#1A9BB4" stroke-width="0.9" opacity="0.75"/>
<rect x="518.55" y="334.94" width="4.3" height="4.3" fill="#1A9BB4"/>
<line x1="569.33" y1="342.85" x2="569.33" y2="356.52" stroke="#1A9BB4" stroke-width="0.9" opacity="0.75"/>
<line x1="566.93" y1="342.85" x2="571.73" y2="342.85" stroke="#1A9BB4" stroke-width="0.9" opacity="0.75"/>
<line x1="566.93" y1="356.52" x2="571.73" y2="356.52" stroke="#1A9BB4" stroke-width="0.9" opacity="0.75"/>
<rect x="567.18" y="347.53" width="4.3" height="4.3" fill="#1A9BB4"/>
<line x1="617.96" y1="382.77" x2="617.96" y2="386.67" stroke="#1A9BB4" stroke-width="0.9" opacity="0.75"/>
<line x1="615.56" y1="382.77" x2="620.36" y2="382.77" stroke="#1A9BB4" stroke-width="0.9" opacity="0.75"/>
<line x1="615.56" y1="386.67" x2="620.36" y2="386.67" stroke="#1A9BB4" stroke-width="0.9" opacity="0.75"/>
<rect x="615.81" y="382.57" width="4.3" height="4.3" fill="#1A9BB4"/>
<line x1="666.59" y1="398" x2="666.59" y2="401.9" stroke="#1A9BB4" stroke-width="0.9" opacity="0.75"/>
<line x1="664.19" y1="398" x2="668.99" y2="398" stroke="#1A9BB4" stroke-width="0.9" opacity="0.75"/>
<line x1="664.19" y1="401.9" x2="668.99" y2="401.9" stroke="#1A9BB4" stroke-width="0.9" opacity="0.75"/>
<rect x="664.44" y="397.8" width="4.3" height="4.3" fill="#1A9BB4"/>
<text x="116.3" y="514.6" font-size="14.5" text-anchor="middle" font-weight="bold" fill="#000" letter-spacing="0.15">Ara h 9</text>
<line x1="43.4" y1="536.5" x2="43.4" y2="635.3" stroke="#111" stroke-width="1.15"/>
<line x1="42.8" y1="634.7" x2="189.89" y2="634.7" stroke="#3a3a3a" stroke-width="1.3"/>
<line x1="39.4" y1="634.7" x2="43.4" y2="634.7" stroke="#222" stroke-width="1.3"/>
<text x="38.1" y="639.7" font-size="14.2" text-anchor="end" font-weight="normal" fill="#000">0.0</text>
<line x1="40.9" y1="610.3" x2="43.4" y2="610.3" stroke="#222" stroke-width="1.3"/>
<line x1="39.4" y1="585.9" x2="43.4" y2="585.9" stroke="#222" stroke-width="1.3"/>
<text x="38.1" y="590.9" font-size="14.2" text-anchor="end" font-weight="normal" fill="#000">0.5</text>
<line x1="40.9" y1="561.5" x2="43.4" y2="561.5" stroke="#222" stroke-width="1.3"/>
<line x1="39.4" y1="537.1" x2="43.4" y2="537.1" stroke="#222" stroke-width="1.3"/>
<text x="38.1" y="542.1" font-size="14.2" text-anchor="end" font-weight="normal" fill="#000">1.0</text>
<line x1="43.4" y1="634.7" x2="43.4" y2="638.7" stroke="#222" stroke-width="1.3"/>
<text x="43.4" y="653.1" font-size="14.2" text-anchor="middle" font-weight="normal" fill="#000">0.0001</text>
<line x1="92.03" y1="634.7" x2="92.03" y2="638.7" stroke="#222" stroke-width="1.3"/>
<text x="92.03" y="653.1" font-size="14.2" text-anchor="middle" font-weight="normal" fill="#000">0.001</text>
<line x1="140.66" y1="634.7" x2="140.66" y2="638.7" stroke="#222" stroke-width="1.3"/>
<text x="140.66" y="653.1" font-size="14.2" text-anchor="middle" font-weight="normal" fill="#000">0.01</text>
<line x1="189.29" y1="634.7" x2="189.29" y2="638.7" stroke="#222" stroke-width="1.3"/>
<text x="189.29" y="653.1" font-size="14.2" text-anchor="middle" font-weight="normal" fill="#000">0.1</text>
<text x="116.8" y="673" font-size="14.85" text-anchor="middle" font-weight="normal" fill="#000">Mouse serum dilution factor</text>
<text transform="translate(11.2 581.1) rotate(-90)" font-size="15.1" text-anchor="middle" fill="#000">Relative IgE binding</text>
<polyline points="43.4,538.22 45.83,538.45 48.26,538.71 50.69,539.01 53.13,539.34 55.56,539.71 57.99,540.13 60.42,540.61 62.85,541.14 65.28,541.74 67.72,542.4 70.15,543.14 72.58,543.97 75.01,544.89 77.44,545.91 79.87,547.04 82.3,548.28 84.74,549.65 87.17,551.14 89.6,552.77 92.03,554.53 94.46,556.43 96.89,558.48 99.32,560.66 101.76,562.97 104.19,565.41 106.62,567.97 109.05,570.62 111.48,573.36 113.91,576.16 116.34,579.01 118.78,581.89 121.21,584.76 123.64,587.61 126.07,590.41 128.5,593.15 130.93,595.81 133.37,598.36 135.8,600.8 138.23,603.11 140.66,605.29 143.09,607.34 145.52,609.24 147.95,611.01 150.39,612.63 152.82,614.12 155.25,615.49 157.68,616.73 160.11,617.86 162.54,618.88 164.97,619.8 167.41,620.63 169.84,621.37 172.27,622.04 174.7,622.63 177.13,623.16 179.56,623.64 182,624.06 184.43,624.43 186.86,624.77 189.29,625.06" fill="none" stroke="#FF0F6E" stroke-width="1.1" stroke-dasharray="1.1 1.2" opacity="0.8"/>
<polyline points="43.4,539.21 45.83,539.41 48.26,539.62 50.69,539.85 53.13,540.1 55.56,540.36 57.99,540.65 60.42,540.96 62.85,541.29 65.28,541.64 67.72,542.03 70.15,542.44 72.58,542.88 75.01,543.36 77.44,543.87 79.87,544.42 82.3,545 84.74,545.63 87.17,546.3 89.6,547.01 92.03,547.77 94.46,548.58 96.89,549.45 99.32,550.36 101.76,551.33 104.19,552.36 106.62,553.45 109.05,554.6 111.48,555.81 113.91,557.08 116.34,558.41 118.78,559.81 121.21,561.26 123.64,562.78 126.07,564.36 128.5,566 130.93,567.69 133.37,569.44 135.8,571.23 138.23,573.07 140.66,574.96 143.09,576.87 145.52,578.82 147.95,580.8 150.39,582.79 152.82,584.8 155.25,586.81 157.68,588.83 160.11,590.83 162.54,592.83 164.97,594.8 167.41,596.75 169.84,598.67 172.27,600.55 174.7,602.39 177.13,604.19 179.56,605.93 182,607.63 184.43,609.26 186.86,610.84 189.29,612.36" fill="none" stroke="#1A9BB4" stroke-width="1.1" stroke-dasharray="1.1 1.2" opacity="0.8"/>
<polyline points="43.4,541.49 92.03,555.64 140.66,572.82 189.29,612.64" fill="none" stroke="#FF0F6E" stroke-width="1.55"/>
<line x1="43.4" y1="535.64" x2="43.4" y2="547.35" stroke="#FF0F6E" stroke-width="0.9" opacity="0.75"/>
<line x1="41" y1="535.64" x2="45.8" y2="535.64" stroke="#FF0F6E" stroke-width="0.9" opacity="0.75"/>
<line x1="41" y1="547.35" x2="45.8" y2="547.35" stroke="#FF0F6E" stroke-width="0.9" opacity="0.75"/>
<rect x="41.25" y="539.34" width="4.3" height="4.3" fill="#FF0F6E"/>
<line x1="92.03" y1="553.69" x2="92.03" y2="557.6" stroke="#FF0F6E" stroke-width="0.9" opacity="0.75"/>
<line x1="89.63" y1="553.69" x2="94.43" y2="553.69" stroke="#FF0F6E" stroke-width="0.9" opacity="0.75"/>
<line x1="89.63" y1="557.6" x2="94.43" y2="557.6" stroke="#FF0F6E" stroke-width="0.9" opacity="0.75"/>
<rect x="89.88" y="553.49" width="4.3" height="4.3" fill="#FF0F6E"/>
<line x1="140.66" y1="565.01" x2="140.66" y2="580.63" stroke="#FF0F6E" stroke-width="0.9" opacity="0.75"/>
<line x1="138.26" y1="565.01" x2="143.06" y2="565.01" stroke="#FF0F6E" stroke-width="0.9" opacity="0.75"/>
<line x1="138.26" y1="580.63" x2="143.06" y2="580.63" stroke="#FF0F6E" stroke-width="0.9" opacity="0.75"/>
<rect x="138.51" y="570.67" width="4.3" height="4.3" fill="#FF0F6E"/>
<line x1="189.29" y1="607.76" x2="189.29" y2="617.52" stroke="#FF0F6E" stroke-width="0.9" opacity="0.75"/>
<line x1="186.89" y1="607.76" x2="191.69" y2="607.76" stroke="#FF0F6E" stroke-width="0.9" opacity="0.75"/>
<line x1="186.89" y1="617.52" x2="191.69" y2="617.52" stroke="#FF0F6E" stroke-width="0.9" opacity="0.75"/>
<rect x="187.14" y="610.49" width="4.3" height="4.3" fill="#FF0F6E"/>
<polyline points="43.4,539.25 92.03,553.69 140.66,607.86 189.29,623.28" fill="none" stroke="#1A9BB4" stroke-width="1.55"/>
<line x1="43.4" y1="537.3" x2="43.4" y2="541.2" stroke="#1A9BB4" stroke-width="0.9" opacity="0.75"/>
<line x1="41" y1="537.3" x2="45.8" y2="537.3" stroke="#1A9BB4" stroke-width="0.9" opacity="0.75"/>
<line x1="41" y1="541.2" x2="45.8" y2="541.2" stroke="#1A9BB4" stroke-width="0.9" opacity="0.75"/>
<rect x="41.25" y="537.1" width="4.3" height="4.3" fill="#1A9BB4"/>
<line x1="92.03" y1="539.05" x2="92.03" y2="568.33" stroke="#1A9BB4" stroke-width="0.9" opacity="0.75"/>
<line x1="89.63" y1="539.05" x2="94.43" y2="539.05" stroke="#1A9BB4" stroke-width="0.9" opacity="0.75"/>
<line x1="89.63" y1="568.33" x2="94.43" y2="568.33" stroke="#1A9BB4" stroke-width="0.9" opacity="0.75"/>
<rect x="89.88" y="551.54" width="4.3" height="4.3" fill="#1A9BB4"/>
<line x1="140.66" y1="606.4" x2="140.66" y2="609.32" stroke="#1A9BB4" stroke-width="0.9" opacity="0.75"/>
<line x1="138.26" y1="606.4" x2="143.06" y2="606.4" stroke="#1A9BB4" stroke-width="0.9" opacity="0.75"/>
<line x1="138.26" y1="609.32" x2="143.06" y2="609.32" stroke="#1A9BB4" stroke-width="0.9" opacity="0.75"/>
<rect x="138.51" y="605.71" width="4.3" height="4.3" fill="#1A9BB4"/>
<line x1="189.29" y1="622.3" x2="189.29" y2="624.26" stroke="#1A9BB4" stroke-width="0.9" opacity="0.75"/>
<line x1="186.89" y1="622.3" x2="191.69" y2="622.3" stroke="#1A9BB4" stroke-width="0.9" opacity="0.75"/>
<line x1="186.89" y1="624.26" x2="191.69" y2="624.26" stroke="#1A9BB4" stroke-width="0.9" opacity="0.75"/>
<rect x="187.14" y="621.13" width="4.3" height="4.3" fill="#1A9BB4"/>
<text x="351.9" y="514.6" font-size="14.5" text-anchor="middle" font-weight="bold" fill="#000" letter-spacing="0.15">Par j 2</text>
<line x1="279" y1="536.5" x2="279" y2="635.3" stroke="#111" stroke-width="1.15"/>
<line x1="278.4" y1="634.7" x2="425.49" y2="634.7" stroke="#3a3a3a" stroke-width="1.3"/>
<line x1="275" y1="634.7" x2="279" y2="634.7" stroke="#222" stroke-width="1.3"/>
<text x="273.7" y="639.7" font-size="14.2" text-anchor="end" font-weight="normal" fill="#000">0.0</text>
<line x1="276.5" y1="610.3" x2="279" y2="610.3" stroke="#222" stroke-width="1.3"/>
<line x1="275" y1="585.9" x2="279" y2="585.9" stroke="#222" stroke-width="1.3"/>
<text x="273.7" y="590.9" font-size="14.2" text-anchor="end" font-weight="normal" fill="#000">0.5</text>
<line x1="276.5" y1="561.5" x2="279" y2="561.5" stroke="#222" stroke-width="1.3"/>
<line x1="275" y1="537.1" x2="279" y2="537.1" stroke="#222" stroke-width="1.3"/>
<text x="273.7" y="542.1" font-size="14.2" text-anchor="end" font-weight="normal" fill="#000">1.0</text>
<line x1="279" y1="634.7" x2="279" y2="638.7" stroke="#222" stroke-width="1.3"/>
<text x="279" y="653.1" font-size="14.2" text-anchor="middle" font-weight="normal" fill="#000">0.0001</text>
<line x1="327.63" y1="634.7" x2="327.63" y2="638.7" stroke="#222" stroke-width="1.3"/>
<text x="327.63" y="653.1" font-size="14.2" text-anchor="middle" font-weight="normal" fill="#000">0.001</text>
<line x1="376.26" y1="634.7" x2="376.26" y2="638.7" stroke="#222" stroke-width="1.3"/>
<text x="376.26" y="653.1" font-size="14.2" text-anchor="middle" font-weight="normal" fill="#000">0.01</text>
<line x1="424.89" y1="634.7" x2="424.89" y2="638.7" stroke="#222" stroke-width="1.3"/>
<text x="424.89" y="653.1" font-size="14.2" text-anchor="middle" font-weight="normal" fill="#000">0.1</text>
<text x="352.4" y="673" font-size="14.85" text-anchor="middle" font-weight="normal" fill="#000">Mouse serum dilution factor</text>
<text transform="translate(246.8 581.1) rotate(-90)" font-size="15.1" text-anchor="middle" fill="#000">Relative IgE binding</text>
<polyline points="279,544.27 281.43,544.47 283.86,544.7 286.29,544.96 288.73,545.24 291.16,545.55 293.59,545.9 296.02,546.29 298.45,546.71 300.88,547.18 303.31,547.7 305.75,548.27 308.18,548.89 310.61,549.57 313.04,550.32 315.47,551.12 317.9,552 320.34,552.94 322.77,553.96 325.2,555.05 327.63,556.21 330.06,557.45 332.49,558.75 334.92,560.12 337.36,561.55 339.79,563.03 342.22,564.57 344.65,566.14 347.08,567.75 349.51,569.38 351.94,571.02 354.38,572.65 356.81,574.28 359.24,575.89 361.67,577.46 364.1,579 366.53,580.48 368.97,581.92 371.4,583.28 373.83,584.59 376.26,585.82 378.69,586.98 381.12,588.07 383.55,589.09 385.99,590.03 388.42,590.91 390.85,591.72 393.28,592.46 395.71,593.14 398.14,593.76 400.57,594.33 403.01,594.85 405.44,595.32 407.87,595.74 410.3,596.13 412.73,596.48 415.16,596.79 417.6,597.08 420.03,597.33 422.46,597.56 424.89,597.77" fill="none" stroke="#FF0F6E" stroke-width="1.1" stroke-dasharray="1.1 1.2" opacity="0.8"/>
<polyline points="279,546.77 281.43,546.85 283.86,546.94 286.29,547.04 288.73,547.15 291.16,547.28 293.59,547.41 296.02,547.57 298.45,547.74 300.88,547.92 303.31,548.13 305.75,548.36 308.18,548.62 310.61,548.9 313.04,549.21 315.47,549.56 317.9,549.94 320.34,550.35 322.77,550.81 325.2,551.32 327.63,551.87 330.06,552.47 332.49,553.13 334.92,553.84 337.36,554.62 339.79,555.47 342.22,556.38 344.65,557.36 347.08,558.41 349.51,559.53 351.94,560.73 354.38,562 356.81,563.34 359.24,564.75 361.67,566.22 364.1,567.76 366.53,569.35 368.97,570.98 371.4,572.66 373.83,574.36 376.26,576.08 378.69,577.82 381.12,579.55 383.55,581.28 385.99,582.98 388.42,584.66 390.85,586.29 393.28,587.88 395.71,589.41 398.14,590.89 400.57,592.3 403.01,593.64 405.44,594.91 407.87,596.11 410.3,597.23 412.73,598.28 415.16,599.26 417.6,600.17 420.03,601.02 422.46,601.79 424.89,602.51" fill="none" stroke="#1A9BB4" stroke-width="1.1" stroke-dasharray="1.1 1.2" opacity="0.8"/>
<polyline points="279,555.64 327.63,553.69 376.26,576.14 424.89,603.47" fill="none" stroke="#FF0F6E" stroke-width="1.55"/>
<line x1="279" y1="539.05" x2="279" y2="572.24" stroke="#FF0F6E" stroke-width="0.9" opacity="0.75"/>
<line x1="276.6" y1="539.05" x2="281.4" y2="539.05" stroke="#FF0F6E" stroke-width="0.9" opacity="0.75"/>
<line x1="276.6" y1="572.24" x2="281.4" y2="572.24" stroke="#FF0F6E" stroke-width="0.9" opacity="0.75"/>
<rect x="276.85" y="553.49" width="4.3" height="4.3" fill="#FF0F6E"/>
<line x1="327.63" y1="546.86" x2="327.63" y2="560.52" stroke="#FF0F6E" stroke-width="0.9" opacity="0.75"/>
<line x1="325.23" y1="546.86" x2="330.03" y2="546.86" stroke="#FF0F6E" stroke-width="0.9" opacity="0.75"/>
<line x1="325.23" y1="560.52" x2="330.03" y2="560.52" stroke="#FF0F6E" stroke-width="0.9" opacity="0.75"/>
<rect x="325.48" y="551.54" width="4.3" height="4.3" fill="#FF0F6E"/>
<line x1="376.26" y1="566.38" x2="376.26" y2="585.9" stroke="#FF0F6E" stroke-width="0.9" opacity="0.75"/>
<line x1="373.86" y1="566.38" x2="378.66" y2="566.38" stroke="#FF0F6E" stroke-width="0.9" opacity="0.75"/>
<line x1="373.86" y1="585.9" x2="378.66" y2="585.9" stroke="#FF0F6E" stroke-width="0.9" opacity="0.75"/>
<rect x="374.11" y="573.99" width="4.3" height="4.3" fill="#FF0F6E"/>
<line x1="424.89" y1="600.54" x2="424.89" y2="606.4" stroke="#FF0F6E" stroke-width="0.9" opacity="0.75"/>
<line x1="422.49" y1="600.54" x2="427.29" y2="600.54" stroke="#FF0F6E" stroke-width="0.9" opacity="0.75"/>
<line x1="422.49" y1="606.4" x2="427.29" y2="606.4" stroke="#FF0F6E" stroke-width="0.9" opacity="0.75"/>
<rect x="422.74" y="601.32" width="4.3" height="4.3" fill="#FF0F6E"/>
<polyline points="279,549.01 327.63,560.04 376.26,581.31 424.89,599.56" fill="none" stroke="#1A9BB4" stroke-width="1.55"/>
<line x1="279" y1="544.13" x2="279" y2="553.89" stroke="#1A9BB4" stroke-width="0.9" opacity="0.75"/>
<line x1="276.6" y1="544.13" x2="281.4" y2="544.13" stroke="#1A9BB4" stroke-width="0.9" opacity="0.75"/>
<line x1="276.6" y1="553.89" x2="281.4" y2="553.89" stroke="#1A9BB4" stroke-width="0.9" opacity="0.75"/>
<circle cx="279" cy="549.01" r="2.3" fill="#1A9BB4"/>
<line x1="327.63" y1="556.13" x2="327.63" y2="563.94" stroke="#1A9BB4" stroke-width="0.9" opacity="0.75"/>
<line x1="325.23" y1="556.13" x2="330.03" y2="556.13" stroke="#1A9BB4" stroke-width="0.9" opacity="0.75"/>
<line x1="325.23" y1="563.94" x2="330.03" y2="563.94" stroke="#1A9BB4" stroke-width="0.9" opacity="0.75"/>
<circle cx="327.63" cy="560.04" r="2.3" fill="#1A9BB4"/>
<line x1="376.26" y1="576.43" x2="376.26" y2="586.19" stroke="#1A9BB4" stroke-width="0.9" opacity="0.75"/>
<line x1="373.86" y1="576.43" x2="378.66" y2="576.43" stroke="#1A9BB4" stroke-width="0.9" opacity="0.75"/>
<line x1="373.86" y1="586.19" x2="378.66" y2="586.19" stroke="#1A9BB4" stroke-width="0.9" opacity="0.75"/>
<circle cx="376.26" cy="581.31" r="2.3" fill="#1A9BB4"/>
<line x1="424.89" y1="593.22" x2="424.89" y2="605.91" stroke="#1A9BB4" stroke-width="0.9" opacity="0.75"/>
<line x1="422.49" y1="593.22" x2="427.29" y2="593.22" stroke="#1A9BB4" stroke-width="0.9" opacity="0.75"/>
<line x1="422.49" y1="605.91" x2="427.29" y2="605.91" stroke="#1A9BB4" stroke-width="0.9" opacity="0.75"/>
<circle cx="424.89" cy="599.56" r="2.3" fill="#1A9BB4"/>
<text x="593.6" y="514.6" font-size="14.5" text-anchor="middle" font-weight="bold" fill="#000" letter-spacing="0.15">Tri a 14</text>
<line x1="520.7" y1="536.5" x2="520.7" y2="635.3" stroke="#111" stroke-width="1.15"/>
<line x1="520.1" y1="634.7" x2="667.19" y2="634.7" stroke="#3a3a3a" stroke-width="1.3"/>
<line x1="516.7" y1="634.7" x2="520.7" y2="634.7" stroke="#222" stroke-width="1.3"/>
<text x="515.4" y="639.7" font-size="14.2" text-anchor="end" font-weight="normal" fill="#000">0.0</text>
<line x1="518.2" y1="610.3" x2="520.7" y2="610.3" stroke="#222" stroke-width="1.3"/>
<line x1="516.7" y1="585.9" x2="520.7" y2="585.9" stroke="#222" stroke-width="1.3"/>
<text x="515.4" y="590.9" font-size="14.2" text-anchor="end" font-weight="normal" fill="#000">0.5</text>
<line x1="518.2" y1="561.5" x2="520.7" y2="561.5" stroke="#222" stroke-width="1.3"/>
<line x1="516.7" y1="537.1" x2="520.7" y2="537.1" stroke="#222" stroke-width="1.3"/>
<text x="515.4" y="542.1" font-size="14.2" text-anchor="end" font-weight="normal" fill="#000">1.0</text>
<line x1="520.7" y1="634.7" x2="520.7" y2="638.7" stroke="#222" stroke-width="1.3"/>
<text x="520.7" y="653.1" font-size="14.2" text-anchor="middle" font-weight="normal" fill="#000">0.0001</text>
<line x1="569.33" y1="634.7" x2="569.33" y2="638.7" stroke="#222" stroke-width="1.3"/>
<text x="569.33" y="653.1" font-size="14.2" text-anchor="middle" font-weight="normal" fill="#000">0.001</text>
<line x1="617.96" y1="634.7" x2="617.96" y2="638.7" stroke="#222" stroke-width="1.3"/>
<text x="617.96" y="653.1" font-size="14.2" text-anchor="middle" font-weight="normal" fill="#000">0.01</text>
<line x1="666.59" y1="634.7" x2="666.59" y2="638.7" stroke="#222" stroke-width="1.3"/>
<text x="666.59" y="653.1" font-size="14.2" text-anchor="middle" font-weight="normal" fill="#000">0.1</text>
<text x="594.1" y="673" font-size="14.85" text-anchor="middle" font-weight="normal" fill="#000">Mouse serum dilution factor</text>
<text transform="translate(488.5 581.1) rotate(-90)" font-size="15.1" text-anchor="middle" fill="#000">Relative IgE binding</text>
<polyline points="520.7,549.93 523.13,549.94 525.56,549.96 527.99,549.97 530.43,549.99 532.86,550 535.29,550.02 537.72,550.04 540.15,550.07 542.58,550.09 545.02,550.12 547.45,550.15 549.88,550.18 552.31,550.22 554.74,550.26 557.17,550.3 559.6,550.35 562.04,550.4 564.47,550.46 566.9,550.52 569.33,550.59 571.76,550.67 574.19,550.75 576.62,550.84 579.06,550.94 581.49,551.05 583.92,551.17 586.35,551.3 588.78,551.44 591.21,551.6 593.65,551.77 596.08,551.96 598.51,552.17 600.94,552.39 603.37,552.64 605.8,552.91 608.23,553.21 610.67,553.53 613.1,553.89 615.53,554.27 617.96,554.7 620.39,555.16 622.82,555.66 625.25,556.22 627.69,556.82 630.12,557.48 632.55,558.2 634.98,558.98 637.41,559.84 639.84,560.77 642.28,561.78 644.71,562.88 647.14,564.08 649.57,565.38 652,566.8 654.43,568.33 656.86,569.99 659.3,571.79 661.73,573.73 664.16,575.83 666.59,578.09" fill="none" stroke="#FF0F6E" stroke-width="1.1" stroke-dasharray="1.1 1.2" opacity="0.8"/>
<polyline points="520.7,546.9 523.13,547.23 525.56,547.6 527.99,548.01 530.43,548.47 532.86,548.99 535.29,549.56 537.72,550.19 540.15,550.89 542.58,551.65 545.02,552.48 547.45,553.38 549.88,554.36 552.31,555.41 554.74,556.52 557.17,557.7 559.6,558.95 562.04,560.24 564.47,561.58 566.9,562.96 569.33,564.36 571.76,565.77 574.19,567.19 576.62,568.59 579.06,569.96 581.49,571.3 583.92,572.6 586.35,573.84 588.78,575.02 591.21,576.14 593.65,577.19 596.08,578.16 598.51,579.07 600.94,579.9 603.37,580.66 605.8,581.36 608.23,581.99 610.67,582.56 613.1,583.07 615.53,583.54 617.96,583.95 620.39,584.32 622.82,584.65 625.25,584.94 627.69,585.2 630.12,585.44 632.55,585.64 634.98,585.82 637.41,585.98 639.84,586.12 642.28,586.25 644.71,586.36 647.14,586.45 649.57,586.54 652,586.61 654.43,586.68 656.86,586.74 659.3,586.79 661.73,586.83 664.16,586.87 666.59,586.9" fill="none" stroke="#1A9BB4" stroke-width="1.1" stroke-dasharray="1.1 1.2" opacity="0.8"/>
<polyline points="520.7,555.64 569.33,562.28 617.96,584.53 666.59,586.88" fill="none" stroke="#1A9BB4" stroke-width="1.55"/>
<line x1="520.7" y1="551.74" x2="520.7" y2="559.55" stroke="#1A9BB4" stroke-width="0.9" opacity="0.75"/>
<line x1="518.3" y1="551.74" x2="523.1" y2="551.74" stroke="#1A9BB4" stroke-width="0.9" opacity="0.75"/>
<line x1="518.3" y1="559.55" x2="523.1" y2="559.55" stroke="#1A9BB4" stroke-width="0.9" opacity="0.75"/>
<circle cx="520.7" cy="555.64" r="2.3" fill="#1A9BB4"/>
<line x1="569.33" y1="558.38" x2="569.33" y2="566.18" stroke="#1A9BB4" stroke-width="0.9" opacity="0.75"/>
<line x1="566.93" y1="558.38" x2="571.73" y2="558.38" stroke="#1A9BB4" stroke-width="0.9" opacity="0.75"/>
<line x1="566.93" y1="566.18" x2="571.73" y2="566.18" stroke="#1A9BB4" stroke-width="0.9" opacity="0.75"/>
<circle cx="569.33" cy="562.28" r="2.3" fill="#1A9BB4"/>
<line x1="617.96" y1="579.65" x2="617.96" y2="589.41" stroke="#1A9BB4" stroke-width="0.9" opacity="0.75"/>
<line x1="615.56" y1="579.65" x2="620.36" y2="579.65" stroke="#1A9BB4" stroke-width="0.9" opacity="0.75"/>
<line x1="615.56" y1="589.41" x2="620.36" y2="589.41" stroke="#1A9BB4" stroke-width="0.9" opacity="0.75"/>
<circle cx="617.96" cy="584.53" r="2.3" fill="#1A9BB4"/>
<line x1="666.59" y1="574.19" x2="666.59" y2="599.56" stroke="#1A9BB4" stroke-width="0.9" opacity="0.75"/>
<line x1="664.19" y1="574.19" x2="668.99" y2="574.19" stroke="#1A9BB4" stroke-width="0.9" opacity="0.75"/>
<line x1="664.19" y1="599.56" x2="668.99" y2="599.56" stroke="#1A9BB4" stroke-width="0.9" opacity="0.75"/>
<circle cx="666.59" cy="586.88" r="2.3" fill="#1A9BB4"/>
<polyline points="520.7,556.62 569.33,557.89 617.96,555.35 666.59,578.87" fill="none" stroke="#FF0F6E" stroke-width="1.55"/>
<line x1="520.7" y1="551.74" x2="520.7" y2="561.5" stroke="#FF0F6E" stroke-width="0.9" opacity="0.75"/>
<line x1="518.3" y1="551.74" x2="523.1" y2="551.74" stroke="#FF0F6E" stroke-width="0.9" opacity="0.75"/>
<line x1="518.3" y1="561.5" x2="523.1" y2="561.5" stroke="#FF0F6E" stroke-width="0.9" opacity="0.75"/>
<rect x="518.55" y="554.47" width="4.3" height="4.3" fill="#FF0F6E"/>
<line x1="569.33" y1="541.3" x2="569.33" y2="574.48" stroke="#FF0F6E" stroke-width="0.9" opacity="0.75"/>
<line x1="566.93" y1="541.3" x2="571.73" y2="541.3" stroke="#FF0F6E" stroke-width="0.9" opacity="0.75"/>
<line x1="566.93" y1="574.48" x2="571.73" y2="574.48" stroke="#FF0F6E" stroke-width="0.9" opacity="0.75"/>
<rect x="567.18" y="555.74" width="4.3" height="4.3" fill="#FF0F6E"/>
<line x1="617.96" y1="540.71" x2="617.96" y2="569.99" stroke="#FF0F6E" stroke-width="0.9" opacity="0.75"/>
<line x1="615.56" y1="540.71" x2="620.36" y2="540.71" stroke="#FF0F6E" stroke-width="0.9" opacity="0.75"/>
<line x1="615.56" y1="569.99" x2="620.36" y2="569.99" stroke="#FF0F6E" stroke-width="0.9" opacity="0.75"/>
<rect x="615.81" y="553.2" width="4.3" height="4.3" fill="#FF0F6E"/>
<line x1="666.59" y1="573.02" x2="666.59" y2="584.73" stroke="#FF0F6E" stroke-width="0.9" opacity="0.75"/>
<line x1="664.19" y1="573.02" x2="668.99" y2="573.02" stroke="#FF0F6E" stroke-width="0.9" opacity="0.75"/>
<line x1="664.19" y1="584.73" x2="668.99" y2="584.73" stroke="#FF0F6E" stroke-width="0.9" opacity="0.75"/>
<rect x="664.44" y="576.72" width="4.3" height="4.3" fill="#FF0F6E"/>
<text x="116.3" y="728.5" font-size="14.5" text-anchor="middle" font-weight="bold" fill="#000" letter-spacing="0.15">Pla a 3</text>
<line x1="43.4" y1="750.4" x2="43.4" y2="849.2" stroke="#111" stroke-width="1.15"/>
<line x1="42.8" y1="848.6" x2="189.89" y2="848.6" stroke="#3a3a3a" stroke-width="1.3"/>
<line x1="39.4" y1="848.6" x2="43.4" y2="848.6" stroke="#222" stroke-width="1.3"/>
<text x="38.1" y="853.6" font-size="14.2" text-anchor="end" font-weight="normal" fill="#000">0.0</text>
<line x1="40.9" y1="824.2" x2="43.4" y2="824.2" stroke="#222" stroke-width="1.3"/>
<line x1="39.4" y1="799.8" x2="43.4" y2="799.8" stroke="#222" stroke-width="1.3"/>
<text x="38.1" y="804.8" font-size="14.2" text-anchor="end" font-weight="normal" fill="#000">0.5</text>
<line x1="40.9" y1="775.4" x2="43.4" y2="775.4" stroke="#222" stroke-width="1.3"/>
<line x1="39.4" y1="751" x2="43.4" y2="751" stroke="#222" stroke-width="1.3"/>
<text x="38.1" y="756" font-size="14.2" text-anchor="end" font-weight="normal" fill="#000">1.0</text>
<line x1="43.4" y1="848.6" x2="43.4" y2="852.6" stroke="#222" stroke-width="1.3"/>
<text x="43.4" y="867" font-size="14.2" text-anchor="middle" font-weight="normal" fill="#000">0.0001</text>
<line x1="92.03" y1="848.6" x2="92.03" y2="852.6" stroke="#222" stroke-width="1.3"/>
<text x="92.03" y="867" font-size="14.2" text-anchor="middle" font-weight="normal" fill="#000">0.001</text>
<line x1="140.66" y1="848.6" x2="140.66" y2="852.6" stroke="#222" stroke-width="1.3"/>
<text x="140.66" y="867" font-size="14.2" text-anchor="middle" font-weight="normal" fill="#000">0.01</text>
<line x1="189.29" y1="848.6" x2="189.29" y2="852.6" stroke="#222" stroke-width="1.3"/>
<text x="189.29" y="867" font-size="14.2" text-anchor="middle" font-weight="normal" fill="#000">0.1</text>
<text x="116.8" y="886.9" font-size="14.85" text-anchor="middle" font-weight="normal" fill="#000">Mouse serum dilution factor</text>
<text transform="translate(11.2 795) rotate(-90)" font-size="15.1" text-anchor="middle" fill="#000">Relative IgE binding</text>
<polyline points="43.4,752.91 45.83,752.97 48.26,753.04 50.69,753.12 53.13,753.2 55.56,753.3 57.99,753.4 60.42,753.52 62.85,753.66 65.28,753.81 67.72,753.97 70.15,754.16 72.58,754.36 75.01,754.59 77.44,754.85 79.87,755.13 82.3,755.44 84.74,755.79 87.17,756.17 89.6,756.59 92.03,757.06 94.46,757.57 96.89,758.13 99.32,758.74 101.76,759.41 104.19,760.14 106.62,760.92 109.05,761.77 111.48,762.69 113.91,763.67 116.34,764.71 118.78,765.82 121.21,766.99 123.64,768.22 126.07,769.51 128.5,770.84 130.93,772.22 133.37,773.64 135.8,775.08 138.23,776.54 140.66,778.02 143.09,779.49 145.52,780.95 147.95,782.4 150.39,783.81 152.82,785.19 155.25,786.53 157.68,787.81 160.11,789.04 162.54,790.22 164.97,791.32 167.41,792.37 169.84,793.35 172.27,794.26 174.7,795.11 177.13,795.9 179.56,796.62 182,797.29 184.43,797.9 186.86,798.46 189.29,798.98" fill="none" stroke="#FF0F6E" stroke-width="1.1" stroke-dasharray="1.1 1.2" opacity="0.8"/>
<polyline points="43.4,755.79 45.83,755.87 48.26,755.96 50.69,756.06 53.13,756.17 55.56,756.3 57.99,756.43 60.42,756.59 62.85,756.76 65.28,756.94 67.72,757.15 70.15,757.38 72.58,757.64 75.01,757.92 77.44,758.23 79.87,758.58 82.3,758.96 84.74,759.37 87.17,759.83 89.6,760.34 92.03,760.89 94.46,761.49 96.89,762.15 99.32,762.86 101.76,763.64 104.19,764.49 106.62,765.4 109.05,766.38 111.48,767.43 113.91,768.55 116.34,769.75 118.78,771.02 121.21,772.36 123.64,773.77 126.07,775.24 128.5,776.78 130.93,778.37 133.37,780 135.8,781.68 138.23,783.38 140.66,785.1 143.09,786.84 145.52,788.57 147.95,790.3 150.39,792 152.82,793.68 155.25,795.31 157.68,796.9 160.11,798.43 162.54,799.91 164.97,801.32 167.41,802.66 169.84,803.93 172.27,805.13 174.7,806.25 177.13,807.3 179.56,808.28 182,809.19 184.43,810.04 186.86,810.81 189.29,811.53" fill="none" stroke="#1A9BB4" stroke-width="1.1" stroke-dasharray="1.1 1.2" opacity="0.8"/>
<polyline points="43.4,759.49 92.03,761.44 140.66,783.99 189.29,809.27" fill="none" stroke="#1A9BB4" stroke-width="1.55"/>
<line x1="43.4" y1="754.12" x2="43.4" y2="764.86" stroke="#1A9BB4" stroke-width="0.9" opacity="0.75"/>
<line x1="41" y1="754.12" x2="45.8" y2="754.12" stroke="#1A9BB4" stroke-width="0.9" opacity="0.75"/>
<line x1="41" y1="764.86" x2="45.8" y2="764.86" stroke="#1A9BB4" stroke-width="0.9" opacity="0.75"/>
<circle cx="43.4" cy="759.49" r="2.3" fill="#1A9BB4"/>
<line x1="92.03" y1="758.52" x2="92.03" y2="764.37" stroke="#1A9BB4" stroke-width="0.9" opacity="0.75"/>
<line x1="89.63" y1="758.52" x2="94.43" y2="758.52" stroke="#1A9BB4" stroke-width="0.9" opacity="0.75"/>
<line x1="89.63" y1="764.37" x2="94.43" y2="764.37" stroke="#1A9BB4" stroke-width="0.9" opacity="0.75"/>
<circle cx="92.03" cy="761.44" r="2.3" fill="#1A9BB4"/>
<line x1="140.66" y1="778.13" x2="140.66" y2="789.84" stroke="#1A9BB4" stroke-width="0.9" opacity="0.75"/>
<line x1="138.26" y1="778.13" x2="143.06" y2="778.13" stroke="#1A9BB4" stroke-width="0.9" opacity="0.75"/>
<line x1="138.26" y1="789.84" x2="143.06" y2="789.84" stroke="#1A9BB4" stroke-width="0.9" opacity="0.75"/>
<circle cx="140.66" cy="783.99" r="2.3" fill="#1A9BB4"/>
<line x1="189.29" y1="803.9" x2="189.29" y2="814.64" stroke="#1A9BB4" stroke-width="0.9" opacity="0.75"/>
<line x1="186.89" y1="803.9" x2="191.69" y2="803.9" stroke="#1A9BB4" stroke-width="0.9" opacity="0.75"/>
<line x1="186.89" y1="814.64" x2="191.69" y2="814.64" stroke="#1A9BB4" stroke-width="0.9" opacity="0.75"/>
<circle cx="189.29" cy="809.27" r="2.3" fill="#1A9BB4"/>
<polyline points="43.4,753.73 92.03,758.42 140.66,777.55 189.29,796.87" fill="none" stroke="#FF0F6E" stroke-width="1.55"/>
<line x1="43.4" y1="751.78" x2="43.4" y2="755.68" stroke="#FF0F6E" stroke-width="0.9" opacity="0.75"/>
<line x1="41" y1="751.78" x2="45.8" y2="751.78" stroke="#FF0F6E" stroke-width="0.9" opacity="0.75"/>
<line x1="41" y1="755.68" x2="45.8" y2="755.68" stroke="#FF0F6E" stroke-width="0.9" opacity="0.75"/>
<rect x="41.25" y="751.58" width="4.3" height="4.3" fill="#FF0F6E"/>
<line x1="92.03" y1="756.47" x2="92.03" y2="760.37" stroke="#FF0F6E" stroke-width="0.9" opacity="0.75"/>
<line x1="89.63" y1="756.47" x2="94.43" y2="756.47" stroke="#FF0F6E" stroke-width="0.9" opacity="0.75"/>
<line x1="89.63" y1="760.37" x2="94.43" y2="760.37" stroke="#FF0F6E" stroke-width="0.9" opacity="0.75"/>
<rect x="89.88" y="756.27" width="4.3" height="4.3" fill="#FF0F6E"/>
<line x1="140.66" y1="766.81" x2="140.66" y2="788.28" stroke="#FF0F6E" stroke-width="0.9" opacity="0.75"/>
<line x1="138.26" y1="766.81" x2="143.06" y2="766.81" stroke="#FF0F6E" stroke-width="0.9" opacity="0.75"/>
<line x1="138.26" y1="788.28" x2="143.06" y2="788.28" stroke="#FF0F6E" stroke-width="0.9" opacity="0.75"/>
<rect x="138.51" y="775.4" width="4.3" height="4.3" fill="#FF0F6E"/>
<line x1="189.29" y1="791.99" x2="189.29" y2="801.75" stroke="#FF0F6E" stroke-width="0.9" opacity="0.75"/>
<line x1="186.89" y1="791.99" x2="191.69" y2="791.99" stroke="#FF0F6E" stroke-width="0.9" opacity="0.75"/>
<line x1="186.89" y1="801.75" x2="191.69" y2="801.75" stroke="#FF0F6E" stroke-width="0.9" opacity="0.75"/>
<rect x="187.14" y="794.72" width="4.3" height="4.3" fill="#FF0F6E"/>
<text x="254" y="719.7" font-size="24" text-anchor="start" font-weight="normal" fill="#000">c</text>
<line x1="380.4" y1="733.9" x2="380.4" y2="849.6" stroke="#111" stroke-width="1.3"/>
<line x1="379.8" y1="849" x2="663" y2="849" stroke="#111" stroke-width="1.5"/>
<line x1="375.4" y1="734.5" x2="380.4" y2="734.5" stroke="#111" stroke-width="1.3"/>
<text x="372.5" y="740.5" font-size="16.5" text-anchor="end" font-weight="normal" fill="#000">1</text>
<line x1="375.4" y1="763.45" x2="380.4" y2="763.45" stroke="#111" stroke-width="1.3"/>
<text x="372.5" y="769.45" font-size="16.5" text-anchor="end" font-weight="normal" fill="#000">0.1</text>
<line x1="375.4" y1="792.4" x2="380.4" y2="792.4" stroke="#111" stroke-width="1.3"/>
<text x="372.5" y="798.4" font-size="16.5" text-anchor="end" font-weight="normal" fill="#000">0.01</text>
<line x1="375.4" y1="821.35" x2="380.4" y2="821.35" stroke="#111" stroke-width="1.3"/>
<text x="372.5" y="827.35" font-size="16.5" text-anchor="end" font-weight="normal" fill="#000">0.001</text>
<line x1="375.4" y1="850.3" x2="380.4" y2="850.3" stroke="#111" stroke-width="1.3"/>
<text x="372.5" y="856.3" font-size="16.5" text-anchor="end" font-weight="normal" fill="#000">0.0001</text>
<rect x="388.3" y="799.4" width="10.4" height="49.6" fill="#88CDD9" stroke="#1E9AB0" stroke-width="2"/>
<line x1="393.5" y1="796.5" x2="393.5" y2="802.3" stroke="#1E9AB0" stroke-width="1"/>
<line x1="390.5" y1="796.5" x2="396.5" y2="796.5" stroke="#1E9AB0" stroke-width="1"/>
<line x1="390.5" y1="802.3" x2="396.5" y2="802.3" stroke="#1E9AB0" stroke-width="1"/>
<circle cx="393.5" cy="799.4" r="2.6" fill="#1E9AB0"/>
<rect x="402.2" y="793.6" width="10.4" height="55.4" fill="#FF80B0" stroke="#FF0A6A" stroke-width="2"/>
<line x1="407.4" y1="790.7" x2="407.4" y2="796.2" stroke="#FF0A6A" stroke-width="1"/>
<line x1="404.4" y1="790.7" x2="410.4" y2="790.7" stroke="#FF0A6A" stroke-width="1"/>
<line x1="404.4" y1="796.2" x2="410.4" y2="796.2" stroke="#FF0A6A" stroke-width="1"/>
<rect x="404.9" y="791.1" width="5" height="5" fill="#FF0A6A"/>
<text x="405.8" y="868.5" font-size="17.5" text-anchor="end" font-weight="normal" fill="#000" transform="rotate(-45 405.8 868.5)">cnsLTP1</text>
<rect x="428.67" y="807.4" width="10.4" height="41.6" fill="#88CDD9" stroke="#1E9AB0" stroke-width="2"/>
<line x1="433.87" y1="802.6" x2="433.87" y2="813.6" stroke="#1E9AB0" stroke-width="1"/>
<line x1="430.87" y1="802.6" x2="436.87" y2="802.6" stroke="#1E9AB0" stroke-width="1"/>
<line x1="430.87" y1="813.6" x2="436.87" y2="813.6" stroke="#1E9AB0" stroke-width="1"/>
<circle cx="433.87" cy="807.4" r="2.6" fill="#1E9AB0"/>
<rect x="442.57" y="778.7" width="10.4" height="70.3" fill="#FF80B0" stroke="#FF0A6A" stroke-width="2"/>
<line x1="447.77" y1="776.4" x2="447.77" y2="780.4" stroke="#FF0A6A" stroke-width="1"/>
<line x1="444.77" y1="776.4" x2="450.77" y2="776.4" stroke="#FF0A6A" stroke-width="1"/>
<line x1="444.77" y1="780.4" x2="450.77" y2="780.4" stroke="#FF0A6A" stroke-width="1"/>
<rect x="445.27" y="776.2" width="5" height="5" fill="#FF0A6A"/>
<text x="446.17" y="868.5" font-size="17.5" text-anchor="end" font-weight="normal" fill="#000" transform="rotate(-45 446.17 868.5)">Pru p 3</text>
<rect x="469.04" y="807.9" width="10.4" height="41.1" fill="#88CDD9" stroke="#1E9AB0" stroke-width="2"/>
<line x1="474.24" y1="804.5" x2="474.24" y2="810.4" stroke="#1E9AB0" stroke-width="1"/>
<line x1="471.24" y1="804.5" x2="477.24" y2="804.5" stroke="#1E9AB0" stroke-width="1"/>
<line x1="471.24" y1="810.4" x2="477.24" y2="810.4" stroke="#1E9AB0" stroke-width="1"/>
<circle cx="474.24" cy="807.9" r="2.6" fill="#1E9AB0"/>
<rect x="482.94" y="805.5" width="10.4" height="43.5" fill="#FF80B0" stroke="#FF0A6A" stroke-width="2"/>
<line x1="488.14" y1="802.3" x2="488.14" y2="809.6" stroke="#FF0A6A" stroke-width="1"/>
<line x1="485.14" y1="802.3" x2="491.14" y2="802.3" stroke="#FF0A6A" stroke-width="1"/>
<line x1="485.14" y1="809.6" x2="491.14" y2="809.6" stroke="#FF0A6A" stroke-width="1"/>
<rect x="485.64" y="803" width="5" height="5" fill="#FF0A6A"/>
<text x="486.54" y="868.5" font-size="17.5" text-anchor="end" font-weight="normal" fill="#000" transform="rotate(-45 486.54 868.5)">Cor a 8</text>
<rect x="509.41" y="806.4" width="10.4" height="42.6" fill="#88CDD9" stroke="#1E9AB0" stroke-width="2"/>
<line x1="514.61" y1="802.6" x2="514.61" y2="810.4" stroke="#1E9AB0" stroke-width="1"/>
<line x1="511.61" y1="802.6" x2="517.61" y2="802.6" stroke="#1E9AB0" stroke-width="1"/>
<line x1="511.61" y1="810.4" x2="517.61" y2="810.4" stroke="#1E9AB0" stroke-width="1"/>
<circle cx="514.61" cy="806.4" r="2.6" fill="#1E9AB0"/>
<rect x="523.31" y="788.2" width="10.4" height="60.8" fill="#FF80B0" stroke="#FF0A6A" stroke-width="2"/>
<line x1="528.51" y1="784.5" x2="528.51" y2="792.4" stroke="#FF0A6A" stroke-width="1"/>
<line x1="525.51" y1="784.5" x2="531.51" y2="784.5" stroke="#FF0A6A" stroke-width="1"/>
<line x1="525.51" y1="792.4" x2="531.51" y2="792.4" stroke="#FF0A6A" stroke-width="1"/>
<rect x="526.01" y="785.7" width="5" height="5" fill="#FF0A6A"/>
<text x="526.91" y="868.5" font-size="17.5" text-anchor="end" font-weight="normal" fill="#000" transform="rotate(-45 526.91 868.5)">Ara h 9</text>
<rect x="549.78" y="807.3" width="10.4" height="41.7" fill="#88CDD9" stroke="#1E9AB0" stroke-width="2"/>
<line x1="554.98" y1="802.2" x2="554.98" y2="813.6" stroke="#1E9AB0" stroke-width="1"/>
<line x1="551.98" y1="802.2" x2="557.98" y2="802.2" stroke="#1E9AB0" stroke-width="1"/>
<line x1="551.98" y1="813.6" x2="557.98" y2="813.6" stroke="#1E9AB0" stroke-width="1"/>
<circle cx="554.98" cy="807.3" r="2.6" fill="#1E9AB0"/>
<rect x="563.68" y="792.1" width="10.4" height="56.9" fill="#FF80B0" stroke="#FF0A6A" stroke-width="2"/>
<line x1="568.88" y1="785.7" x2="568.88" y2="802.2" stroke="#FF0A6A" stroke-width="1"/>
<line x1="565.88" y1="785.7" x2="571.88" y2="785.7" stroke="#FF0A6A" stroke-width="1"/>
<line x1="565.88" y1="802.2" x2="571.88" y2="802.2" stroke="#FF0A6A" stroke-width="1"/>
<rect x="566.38" y="789.6" width="5" height="5" fill="#FF0A6A"/>
<text x="567.28" y="868.5" font-size="17.5" text-anchor="end" font-weight="normal" fill="#000" transform="rotate(-45 567.28 868.5)">Par j 2</text>
<rect x="590.15" y="821.2" width="10.4" height="27.8" fill="#88CDD9" stroke="#1E9AB0" stroke-width="2"/>
<line x1="595.35" y1="813.2" x2="595.35" y2="840.1" stroke="#1E9AB0" stroke-width="1"/>
<line x1="592.35" y1="813.2" x2="598.35" y2="813.2" stroke="#1E9AB0" stroke-width="1"/>
<line x1="592.35" y1="840.1" x2="598.35" y2="840.1" stroke="#1E9AB0" stroke-width="1"/>
<circle cx="595.35" cy="821.2" r="2.6" fill="#1E9AB0"/>
<rect x="604.05" y="768.6" width="10.4" height="80.4" fill="#FF80B0" stroke="#FF0A6A" stroke-width="2"/>
<line x1="609.25" y1="764.2" x2="609.25" y2="773.7" stroke="#FF0A6A" stroke-width="1"/>
<line x1="606.25" y1="764.2" x2="612.25" y2="764.2" stroke="#FF0A6A" stroke-width="1"/>
<line x1="606.25" y1="773.7" x2="612.25" y2="773.7" stroke="#FF0A6A" stroke-width="1"/>
<rect x="606.75" y="766.1" width="5" height="5" fill="#FF0A6A"/>
<text x="607.65" y="868.5" font-size="17.5" text-anchor="end" font-weight="normal" fill="#000" transform="rotate(-45 607.65 868.5)">Tria a 14</text>
<rect x="630.52" y="792.1" width="10.4" height="56.9" fill="#88CDD9" stroke="#1E9AB0" stroke-width="2"/>
<line x1="635.72" y1="788.3" x2="635.72" y2="797.1" stroke="#1E9AB0" stroke-width="1"/>
<line x1="632.72" y1="788.3" x2="638.72" y2="788.3" stroke="#1E9AB0" stroke-width="1"/>
<line x1="632.72" y1="797.1" x2="638.72" y2="797.1" stroke="#1E9AB0" stroke-width="1"/>
<circle cx="635.72" cy="792.1" r="2.6" fill="#1E9AB0"/>
<rect x="644.42" y="794" width="10.4" height="55" fill="#FF80B0" stroke="#FF0A6A" stroke-width="2"/>
<line x1="649.62" y1="788.3" x2="649.62" y2="802.2" stroke="#FF0A6A" stroke-width="1"/>
<line x1="646.62" y1="788.3" x2="652.62" y2="788.3" stroke="#FF0A6A" stroke-width="1"/>
<line x1="646.62" y1="802.2" x2="652.62" y2="802.2" stroke="#FF0A6A" stroke-width="1"/>
<rect x="647.12" y="791.5" width="5" height="5" fill="#FF0A6A"/>
<text x="648.02" y="868.5" font-size="17.5" text-anchor="end" font-weight="normal" fill="#000" transform="rotate(-45 648.02 868.5)">Pla a 3</text>
<text x="521" y="932.6" font-size="17.4" text-anchor="middle" font-weight="normal" fill="#000">Allergens</text>
<circle cx="441.6" cy="741.7" r="2.8" fill="#1E9AB0"/>
<rect x="439" y="756.6" width="5.2" height="5.2" fill="#FF0A6A"/>
<text x="454.2" y="747.9" font-size="17.6" text-anchor="start" font-weight="normal" fill="#000">cnsLTP1-mRNA</text>
<text x="454.2" y="765.4" font-size="17.6" text-anchor="start" font-weight="normal" fill="#000">cnsLTP1-protein</text>
<text transform="translate(291 830) rotate(-90)" font-size="17.3" fill="#000">IC<tspan font-size="12" dy="3.5">50</tspan><tspan dy="-3.5"> values</tspan></text>
<text transform="translate(313.8 787.1) rotate(-90)" font-size="17.6" text-anchor="middle" fill="#000">(mouse serum dilution)</text>
</svg></body></html>
